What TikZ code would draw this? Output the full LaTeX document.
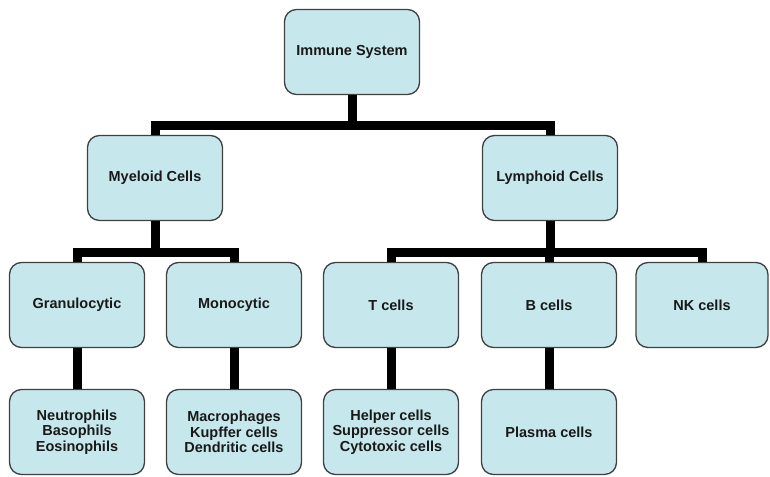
\documentclass[tikz,border=0pt]{standalone}
\usepackage{fontspec}
\setmainfont{Liberation Sans}
\begin{document}
\begin{tikzpicture}[x=1pt,y=-1pt,
  cellbox/.style={draw=black!75, line width=1.3pt, fill=boxfill, rounded corners=12pt,
    minimum width=135pt, minimum height=85pt, align=center, inner sep=2pt,
    font=\fontsize{14.5}{15.5}\selectfont\bfseries, text=black!90},
  link/.style={line width=9pt, line join=miter, draw=black}]
\definecolor{boxfill}{HTML}{C6E8EC}
\useasboundingbox (0,0) rectangle (770,476);

% hierarchy of cell types
\node[cellbox] (immune)   at (352,52)  {Immune System};
\node[cellbox] (myeloid)  at (155,178) {Myeloid Cells};
\node[cellbox] (lymphoid) at (550,178) {Lymphoid Cells};
\node[cellbox] (granulo)  at (77,305)  {Granulocytic};
\node[cellbox] (mono)     at (234,305) {Monocytic};
\node[cellbox] (tcells)   at (391,305) {T cells};
\node[cellbox] (bcells)   at (549,305) {B cells};
\node[cellbox, minimum width=132pt] (nkcells) at (702,305) {NK cells};
\node[cellbox] (granlist) at (77,432)  {Neutrophils\\Basophils\\Eosinophils};
\node[cellbox] (monolist) at (234,432) {Macrophages\\Kupffer cells\\Dendritic cells};
\node[cellbox] (tlist)    at (391,432) {Helper cells\\Suppressor cells\\Cytotoxic cells};
\node[cellbox] (blist)    at (549,432) {Plasma cells};

% junction points on the bus lines
\coordinate (j0) at (352,125);
\coordinate (j1) at (155,252);
\coordinate (j2) at (550,252);

\draw[link] (immune.south) -- (j0);
\draw[link] (myeloid.north) |- (j0) -| (lymphoid.north);
\draw[link] (myeloid.south) -- (j1);
\draw[link] (granulo.north) |- (j1) -| (mono.north);
\draw[link] (lymphoid.south) -- (j2);
\draw[link] (tcells.north) |- (j2) -| (nkcells.north);
\draw[link] (bcells.north) -- (bcells.north |- j2);
\draw[link] (granulo.south) -- (granlist.north);
\draw[link] (mono.south) -- (monolist.north);
\draw[link] (tcells.south) -- (tlist.north);
\draw[link] (bcells.south) -- (blist.north);
\end{tikzpicture}
\end{document}
